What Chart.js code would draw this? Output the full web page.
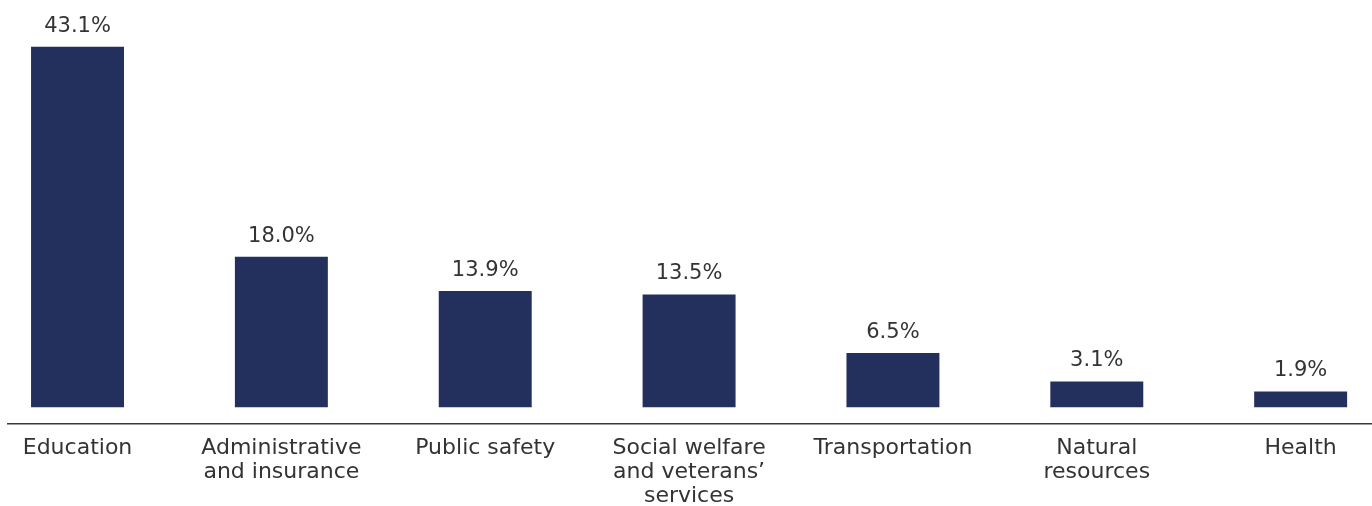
<!DOCTYPE html>
<html>
<head>
<meta charset="utf-8">
<script src="https://cdn.jsdelivr.net/npm/chart.js@4.4.1/dist/chart.umd.min.js"></script>
<style>
  body { margin: 0; background: #fff; }
  #wrap { width: 1372px; height: 506px; position: relative; }
</style>
</head>
<body>
<div id="wrap"><canvas id="myChart"></canvas></div>
<script>
// categories (multi-line tick labels)
const categories = [
    ['Education'],
    ['Administrative', 'and insurance'],
    ['Public safety'],
    ['Social welfare', 'and veterans\u2019', 'services'],
    ['Transportation'],
    ['Natural', 'resources'],
    ['Health']
];
// share of spending, %
const values = [43.1, 18.0, 13.9, 13.5, 6.5, 3.1, 1.9];

const barColor = '#23305e';
const textColor = '#333333';

// draws the % labels above each bar
const valueLabels = {
    id: 'valueLabels',
    afterDatasetsDraw(chart) {
        const ctx = chart.ctx;
        const meta = chart.getDatasetMeta(0);
        ctx.save();
        ctx.font = '21px "DejaVu Sans"';
        ctx.fillStyle = textColor;
        ctx.textAlign = 'center';
        ctx.textBaseline = 'alphabetic';
        meta.data.forEach((bar, i) => {
            ctx.fillText(values[i].toFixed(1) + '%', bar.x, bar.y - 15);
        });
        ctx.restore();
    }
};

var ctx = document.getElementById('myChart');
new Chart(ctx, {
    type: 'bar',
    data: {
        datasets: [{
            data: values.map((v, i) => ({ x: i, y: v })),
            backgroundColor: barColor,
            barPercentage: 1,
            categoryPercentage: 0.456
        }]
    },
    options: {
        responsive: true,
        maintainAspectRatio: false,
        animation: false,
        layout: { padding: { left: 8, right: 0, top: 0, bottom: -14 } },
        plugins: {
            legend: { display: false },
            tooltip: { enabled: false }
        },
        scales: {
            x: {
                type: 'linear',
                offset: false,
                min: -0.341,
                max: 6.35,
                afterBuildTicks: scale => {
                    scale.ticks = categories.map((c, i) => ({ value: i }));
                },
                grid: { display: false, offset: false, drawTicks: false },
                border: { display: true, color: '#3a3a3a', width: 1.5 },
                ticks: {
                    color: textColor,
                    padding: 12,
                    maxRotation: 0,
                    autoSkip: false,
                    font: { family: 'DejaVu Sans', size: 22, lineHeight: 1.09 },
                    callback: value => categories[value]
                }
            },
            y: {
                display: false,
                min: -2.0,
                max: 48.7
            }
        }
    },
    plugins: [valueLabels]
});
</script>
</body>
</html>
